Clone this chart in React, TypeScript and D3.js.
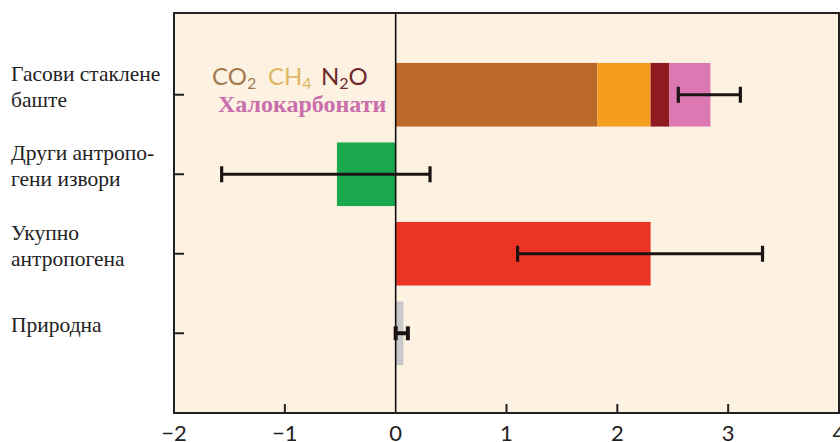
import React from 'react';
import * as d3 from 'd3';

// categories (label lines per row)
const categoryLabels = [
  ['Гасови стаклене', 'баште'],
  ['Други антропо-', 'гени извори'],
  ['Укупно', 'антропогена'],
  ['Природна'],
];
const categoryKeys = ['ghg', 'other', 'total', 'natural'];

// stacked greenhouse gas components
const ghgNames = ['CO2', 'CH4', 'N2O', 'Халокарбонати'];
const ghgValues = [1.82, 0.48, 0.17, 0.37];
const ghgColors = ['#bb6a2b', '#f49d1f', '#8e1b20', '#dc78b2'];

// single bars (other rows)
const singleKeys = ['other', 'total', 'natural'];
const singleValues = [-0.53, 2.3, 0.07];
const singleColors = ['#1aa84f', '#ec3425', '#c9c9c9'];

// error ranges per row
const errLow = [2.55, -1.57, 1.1, 0.0];
const errHigh = [3.11, 0.31, 3.31, 0.11];

const xTicks = [-2, -1, 0, 1, 2, 3, 4];

export default function App() {
  const left = 174;
  const right = 839;
  const top = 13;
  const bottom = 413;

  const x = d3.scaleLinear().domain([-2, 4]).range([left, right]);
  const y = d3
    .scaleBand<string>()
    .domain(categoryKeys)
    .range([55, 373])
    .paddingInner(0.2)
    .paddingOuter(0.1);
  const bw = y.bandwidth();

  // stacked offsets for the greenhouse gas bar
  const stackEnds = d3.cumsum(ghgValues);

  const fmt = (v: number) => (v < 0 ? '\u2212' + Math.abs(v) : String(v));

  return (
    <svg
      width={840}
      height={442}
      style={{ position: 'absolute', left: 0, top: 0, background: '#fff' }}
    >
      {/* plot background */}
      <rect x={left} y={top} width={right - left} height={bottom - top} fill="#fdf1e1" />

      {/* greenhouse gas stack */}
      {ghgValues.map((v, i) => (
        <rect
          key={ghgNames[i]}
          x={x(stackEnds[i] - v)}
          y={y('ghg')}
          width={x(stackEnds[i]) - x(stackEnds[i] - v)}
          height={bw}
          fill={ghgColors[i]}
        />
      ))}

      {/* single bars */}
      {singleValues.map((v, i) => (
        <rect
          key={singleKeys[i]}
          x={x(Math.min(0, v))}
          y={y(singleKeys[i])}
          width={Math.abs(x(v) - x(0))}
          height={bw}
          fill={singleColors[i]}
        />
      ))}

      {/* zero line */}
      <line x1={x(0)} x2={x(0)} y1={top} y2={bottom} stroke="#111" strokeWidth={1.6} />

      {/* error bars */}
      {categoryKeys.map((k, i) => {
        const cy = (y(k) as number) + bw / 2;
        const cap = k === 'natural' ? 7 : 8;
        return (
          <g key={k} stroke="#1c1414" strokeWidth={k === 'natural' ? 4 : 3.2}>
            <line x1={x(errLow[i])} x2={x(errHigh[i])} y1={cy} y2={cy} />
            <line x1={x(errLow[i])} x2={x(errLow[i])} y1={cy - cap} y2={cy + cap} />
            <line x1={x(errHigh[i])} x2={x(errHigh[i])} y1={cy - cap} y2={cy + cap} />
          </g>
        );
      })}

      {/* frame */}
      <rect
        x={left}
        y={top}
        width={right - left}
        height={bottom - top}
        fill="none"
        stroke="#222"
        strokeWidth={2}
      />

      {/* y ticks */}
      {categoryKeys.map((k) => {
        const cy = (y(k) as number) + bw / 2;
        return <line key={k} x1={left} x2={left + 10} y1={cy} y2={cy} stroke="#222" strokeWidth={2} />;
      })}

      {/* x ticks */}
      {xTicks
        .filter((t) => t !== -2 && t !== 0 && t !== 4)
        .map((t) => (
          <line key={t} x1={x(t)} x2={x(t)} y1={bottom} y2={bottom - 9} stroke="#222" strokeWidth={2} />
        ))}
      {xTicks.map((t) => (
        <text
          key={t}
          x={x(t)}
          y={441}
          textAnchor="middle"
          fontFamily="Lato, 'Open Sans', sans-serif"
          fontSize={22}
          fill="#222"
        >
          {fmt(t)}
        </text>
      ))}

      {/* category labels */}
      {categoryLabels.map((lines, i) => {
        const cy = (y(categoryKeys[i]) as number) + bw / 2;
        const lh = 26;
        const start = cy - ((lines.length - 1) * lh) / 2 - 1;
        return (
          <text
            key={i}
            fontFamily="'Liberation Serif', 'Times New Roman', serif"
            fontSize={21.5}
            fill="#222"
          >
            {lines.map((l, j) => (
              <tspan key={j} x={11} y={start + j * lh}>
                {l}
              </tspan>
            ))}
          </text>
        );
      })}

      {/* in-plot legend */}
      <g fontFamily="Lato, 'Open Sans', sans-serif" fontSize={24}>
        <text x={212} y={85} fill="#a37b52">
          CO<tspan fontSize={16} dy={4}>2</tspan>
        </text>
        <text x={268} y={85} fill="#dfb867">
          CH<tspan fontSize={16} dy={4}>4</tspan>
        </text>
        <text x={321} y={85} fill="#6e2a2f">
          N<tspan fontSize={16} dy={4}>2</tspan>
          <tspan dy={-4}>O</tspan>
        </text>
      </g>
      <text
        x={218}
        y={112}
        fontFamily="'Liberation Serif', 'Times New Roman', serif"
        fontWeight="bold"
        fontSize={24}
        fill="#c96dad"
      >
        {ghgNames[3]}
      </text>
    </svg>
  );
}
